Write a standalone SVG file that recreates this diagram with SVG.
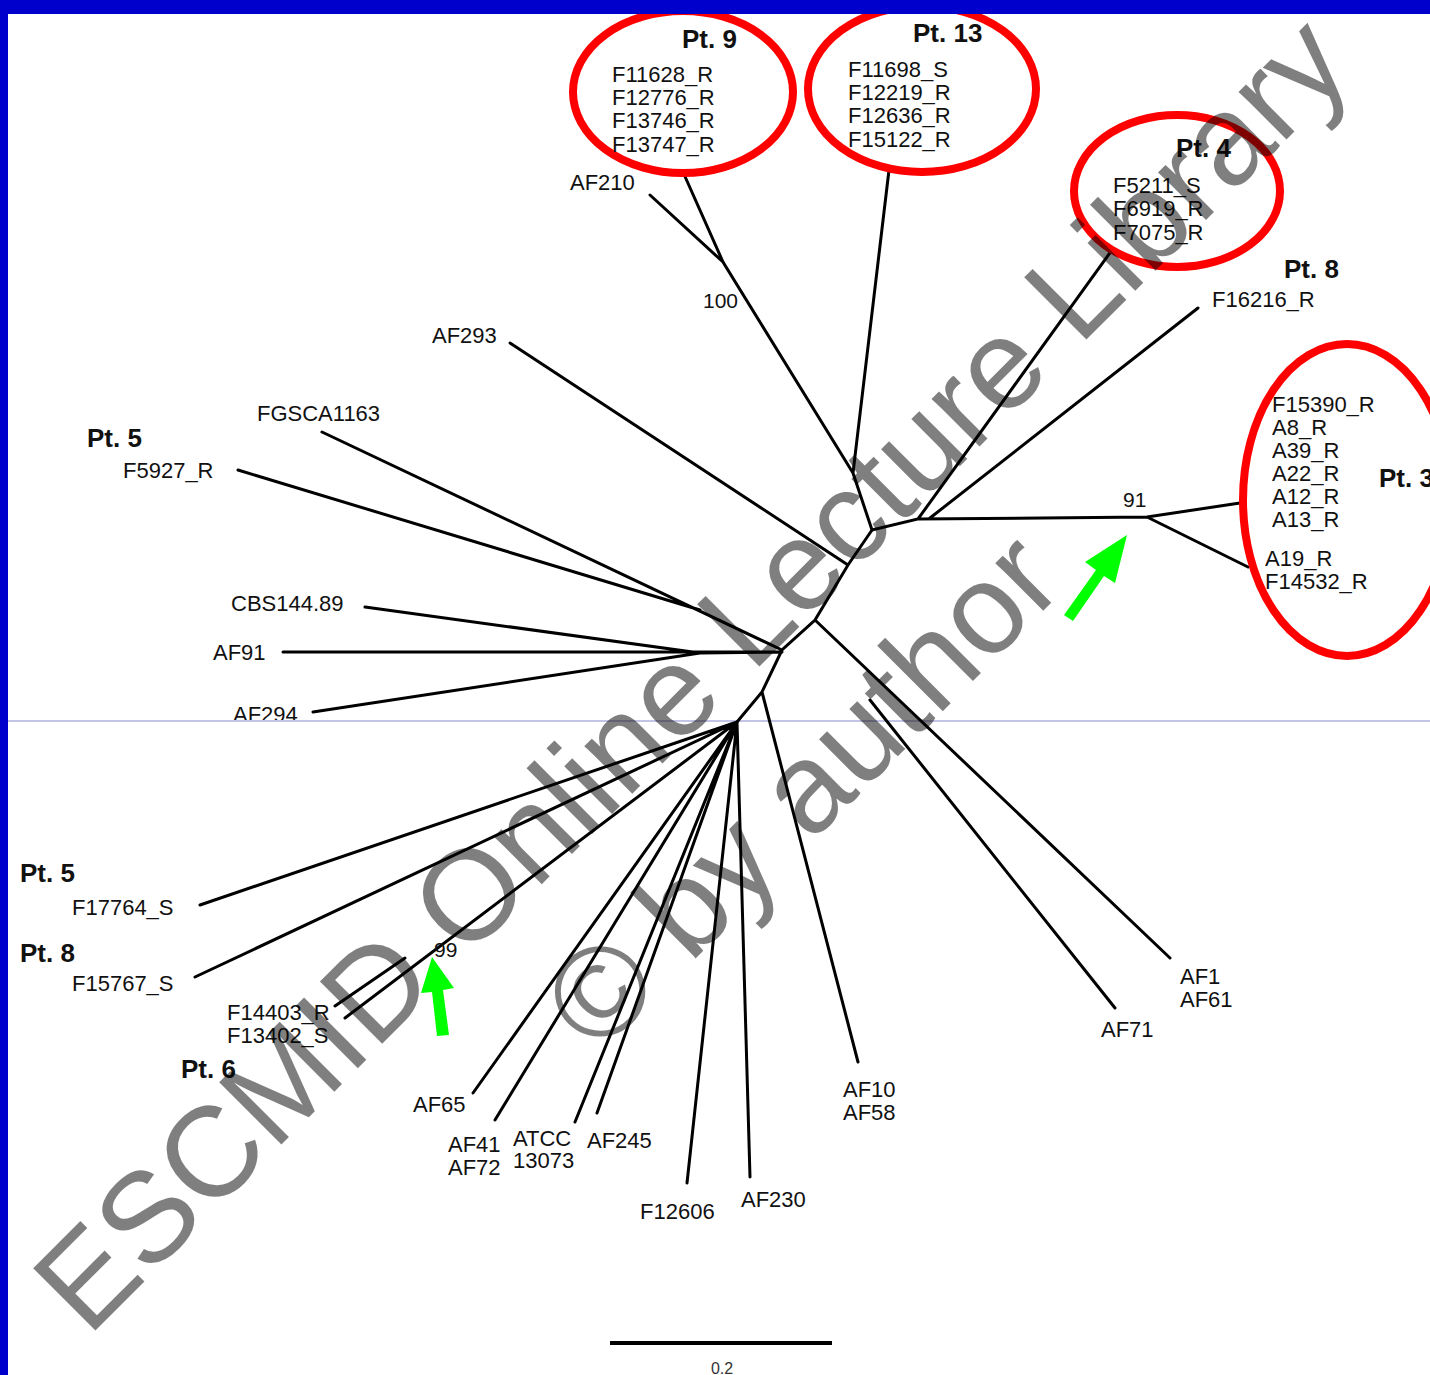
<svg xmlns="http://www.w3.org/2000/svg" width="1430" height="1375" viewBox="0 0 1430 1375">
<style>
.lbl{font-family:"Liberation Sans",Arial,sans-serif;font-size:22px;fill:#111}
.pt{font-family:"Liberation Sans",Arial,sans-serif;font-size:26px;font-weight:bold;fill:#111}
.bs{font-family:"Liberation Sans",Arial,sans-serif;font-size:21px;fill:#111}
.br{stroke:#000;stroke-width:3;fill:none;stroke-linecap:round}
.ring{fill:none;stroke:#ff0000;stroke-width:8}
.arrow{fill:#00ff00}
.wm{font-family:"Liberation Sans",Arial,sans-serif;font-size:128px;fill:#000;fill-opacity:0.5}
</style>
<defs>
<clipPath id="topHalf"><rect x="0" y="0" width="1430" height="720"/></clipPath>
</defs>
<rect x="0" y="0" width="1430" height="1375" fill="#fff"/>
<line x1="8" y1="721" x2="1430" y2="721" stroke="#8888cc" stroke-width="1"/>

<g id="connectors">
<path class="br" d="M650,195 L723,262 M683,172 L723,262 L853,473 M889,170 L853,473 L872,530 L918,519 L1112,250 M930,518 L1198,308 M918,519 L1147,517 L1240,503 M1147,517 L1248,567"/>
<path class="br" d="M872,530 L848,565 L815,620 L782,650 L762,692 L737,722 M510,343 L848,565 M815,620 L1170,958 M870,700 L1115,1008 M322,432 L782,650 M238,470 L700,610 M283,652 L782,652 M365,607 L700,653 M313,712 L700,653 L782,652 M762,692 L858,1062"/>
<path class="br" d="M737,722 L200,905 M737,722 L195,977 M737,722 L345,1018 M405,958 L335,1006 M737,722 L473,1093 M737,722 L495,1120 M737,722 L575,1122 M737,722 L597,1113 M737,722 L687,1183 M737,722 L750,1177"/>
</g>

<g id="scale"><line x1="610" y1="1343" x2="832" y2="1343" stroke="#000" stroke-width="4"/><text x="722" y="1374" text-anchor="middle" font-family="Liberation Sans,Arial,sans-serif" font-size="16" fill="#333">0.2</text></g>

<g id="pt9"><ellipse class="ring" cx="683" cy="92" rx="110" ry="81"/><text class="pt" x="682" y="48">Pt. 9</text>
<text class="lbl" x="612" y="82">F11628_R</text><text class="lbl" x="612" y="105">F12776_R</text><text class="lbl" x="612" y="128">F13746_R</text><text class="lbl" x="612" y="152">F13747_R</text></g>
<g id="pt13"><ellipse class="ring" cx="922" cy="89" rx="114" ry="83"/><text class="pt" x="913" y="42">Pt. 13</text>
<text class="lbl" x="848" y="77">F11698_S</text><text class="lbl" x="848" y="100">F12219_R</text><text class="lbl" x="848" y="123">F12636_R</text><text class="lbl" x="848" y="147">F15122_R</text></g>
<g id="pt4"><ellipse class="ring" cx="1177" cy="191" rx="103" ry="76"/><text class="pt" x="1176" y="157">Pt. 4</text>
<text class="lbl" x="1113" y="193">F5211_S</text><text class="lbl" x="1113" y="216">F6919_R</text><text class="lbl" x="1113" y="240">F7075_R</text></g>
<g id="pt8a"><text class="pt" x="1284" y="278">Pt. 8</text><text class="lbl" x="1212" y="307">F16216_R</text></g>
<g id="pt3"><ellipse class="ring" cx="1347" cy="500" rx="104" ry="156"/><text class="pt" x="1379" y="487">Pt. 3</text>
<text class="lbl" x="1272" y="412">F15390_R</text><text class="lbl" x="1272" y="435">A8_R</text><text class="lbl" x="1272" y="458">A39_R</text><text class="lbl" x="1272" y="481">A22_R</text><text class="lbl" x="1272" y="504">A12_R</text><text class="lbl" x="1272" y="527">A13_R</text><text class="lbl" x="1265" y="566">A19_R</text><text class="lbl" x="1265" y="589">F14532_R</text></g>
<g id="n91"><text class="bs" x="1123" y="507">91</text></g>
<g id="n100"><text class="bs" x="703" y="308">100</text></g>
<g id="n99"><text class="bs" x="434" y="957">99</text></g>
<g id="af210"><text class="lbl" x="570" y="190">AF210</text></g>
<g id="af293"><text class="lbl" x="432" y="343">AF293</text></g>
<g id="fgsca"><text class="lbl" x="257" y="421">FGSCA1163</text></g>
<g id="pt5a"><text class="pt" x="87" y="447">Pt. 5</text><text class="lbl" x="123" y="478">F5927_R</text></g>
<g id="cbs"><text class="lbl" x="231" y="611">CBS144.89</text></g>
<g id="af91"><text class="lbl" x="213" y="660">AF91</text></g>
<g id="af294"><text class="lbl" x="233" y="722" clip-path="url(#topHalf)">AF294</text></g>
<g id="pt5b"><text class="pt" x="20" y="882">Pt. 5</text><text class="lbl" x="72" y="915">F17764_S</text></g>
<g id="pt8b"><text class="pt" x="20" y="962">Pt. 8</text><text class="lbl" x="72" y="991">F15767_S</text></g>
<g id="pt6"><text class="lbl" x="227" y="1020">F14403_R</text><text class="lbl" x="227" y="1043">F13402_S</text><text class="pt" x="181" y="1078">Pt. 6</text></g>
<g id="af65"><text class="lbl" x="413" y="1112">AF65</text></g>
<g id="af41"><text class="lbl" x="448" y="1152">AF41</text><text class="lbl" x="448" y="1175">AF72</text></g>
<g id="atcc"><text class="lbl" x="513" y="1146">ATCC</text><text class="lbl" x="513" y="1168">13073</text></g>
<g id="af245"><text class="lbl" x="587" y="1148">AF245</text></g>
<g id="f12606"><text class="lbl" x="640" y="1219">F12606</text></g>
<g id="af230"><text class="lbl" x="741" y="1207">AF230</text></g>
<g id="af10"><text class="lbl" x="843" y="1097">AF10</text><text class="lbl" x="843" y="1120">AF58</text></g>
<g id="af1"><text class="lbl" x="1180" y="984">AF1</text><text class="lbl" x="1180" y="1007">AF61</text></g>
<g id="af71"><text class="lbl" x="1101" y="1037">AF71</text></g>

<g id="arrows">
<polygon class="arrow" points="1064,615 1096,570 1085,562 1127,535 1115,583 1104,576 1073,621"/>
<polygon class="arrow" points="437,1036 432,992 421,993 432,957 454,988 443,990 449,1035"/>
</g>

<g id="watermark">
<text class="wm" x="88" y="1338" transform="rotate(-45 88 1338)">ESCMID Online Lecture Library</text>
<text class="wm" x="598" y="1056" transform="rotate(-45 598 1056)">© by author</text>
</g>

<rect x="0" y="0" width="1430" height="14" fill="#0000cc"/>
<rect x="0" y="0" width="8" height="1375" fill="#0000cc"/>
</svg>
